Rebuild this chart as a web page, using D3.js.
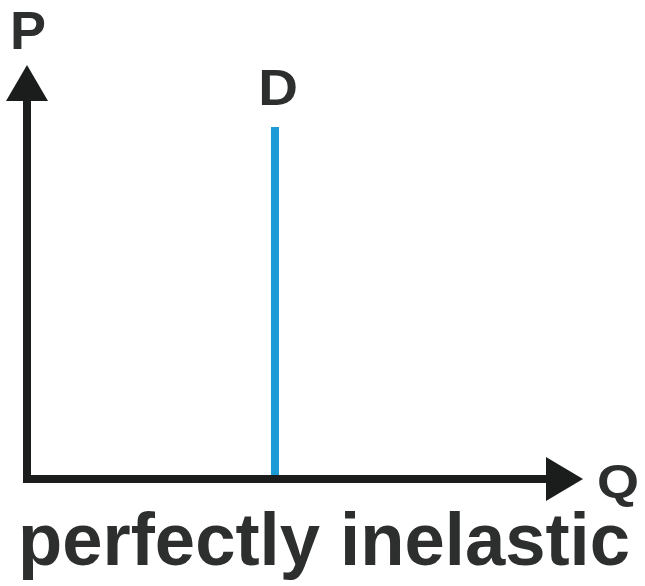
<!DOCTYPE html>
<html><head><meta charset="utf-8">
<script src="https://cdn.jsdelivr.net/npm/d3@7"></script>
<style>html,body{margin:0;padding:0;background:#fff;}svg{display:block;}</style>
</head><body>
<svg id="c" width="645" height="586"></svg>
<script>
const axisLabels = ["P", "Q"];
const curveLabel = ["D"];
const demandQ = [44.6, 44.6];
const demandP = [0, 85];
const title = ["perfectly inelastic"];

const svg = d3.select("#c");
const x = d3.scaleLinear().domain([0, 100]).range([27, 583]);
const y = d3.scaleLinear().domain([0, 100]).range([479, 65]);
const axisColor = "#1b1d1d";
const textColor = "#2d2f2e";
const font = "'Liberation Sans', Arial, Helvetica, sans-serif";

// demand line
const pts = demandQ.map((q, i) => [q, demandP[i]]);
svg.append("path")
  .attr("d", d3.line().x(d => x(d[0])).y(d => y(d[1]))(pts))
  .attr("stroke", "#1a9bd7").attr("stroke-width", 8).attr("fill", "none");

// axes shafts
svg.append("line").attr("x1", x(0)).attr("x2", x(0))
  .attr("y1", y(0) + 4).attr("y2", y(100) + 34)
  .attr("stroke", axisColor).attr("stroke-width", 8);
svg.append("line").attr("x1", x(0) - 4).attr("x2", x(100) - 35)
  .attr("y1", y(0)).attr("y2", y(0))
  .attr("stroke", axisColor).attr("stroke-width", 8);
// arrowheads
svg.append("path")
  .attr("d", `M${x(0)},${y(100)} L${x(0) + 21},${y(100) + 36} L${x(0) - 21},${y(100) + 36} Z`)
  .attr("fill", axisColor);
svg.append("path")
  .attr("d", `M${x(100)},${y(0)} L${x(100) - 37},${y(0) - 22} L${x(100) - 37},${y(0) + 22} Z`)
  .attr("fill", axisColor);

// labels
svg.append("text").text(axisLabels[0])
  .attr("x", 28).attr("y", 49).attr("text-anchor", "middle")
  .attr("font-family", font).attr("font-weight", "bold").attr("font-size", 54).attr("fill", textColor);
svg.append("text").text(axisLabels[1])
  .attr("transform", "translate(618,497) scale(1.15,1)").attr("text-anchor", "middle")
  .attr("font-family", font).attr("font-weight", "bold").attr("font-size", 47).attr("fill", textColor);
svg.append("text").text(curveLabel[0])
  .attr("transform", `translate(${x(demandQ[1]) + 3},105) scale(1.1,1)`).attr("text-anchor", "middle")
  .attr("font-family", font).attr("font-weight", "bold").attr("font-size", 50).attr("fill", textColor);
svg.append("text").text(title[0])
  .attr("x", 18).attr("y", 565)
  .attr("font-family", font).attr("font-weight", "bold").attr("font-size", 74)
  .attr("textLength", 612).attr("lengthAdjust", "spacingAndGlyphs")
  .attr("fill", textColor);
</script>
</body></html>
